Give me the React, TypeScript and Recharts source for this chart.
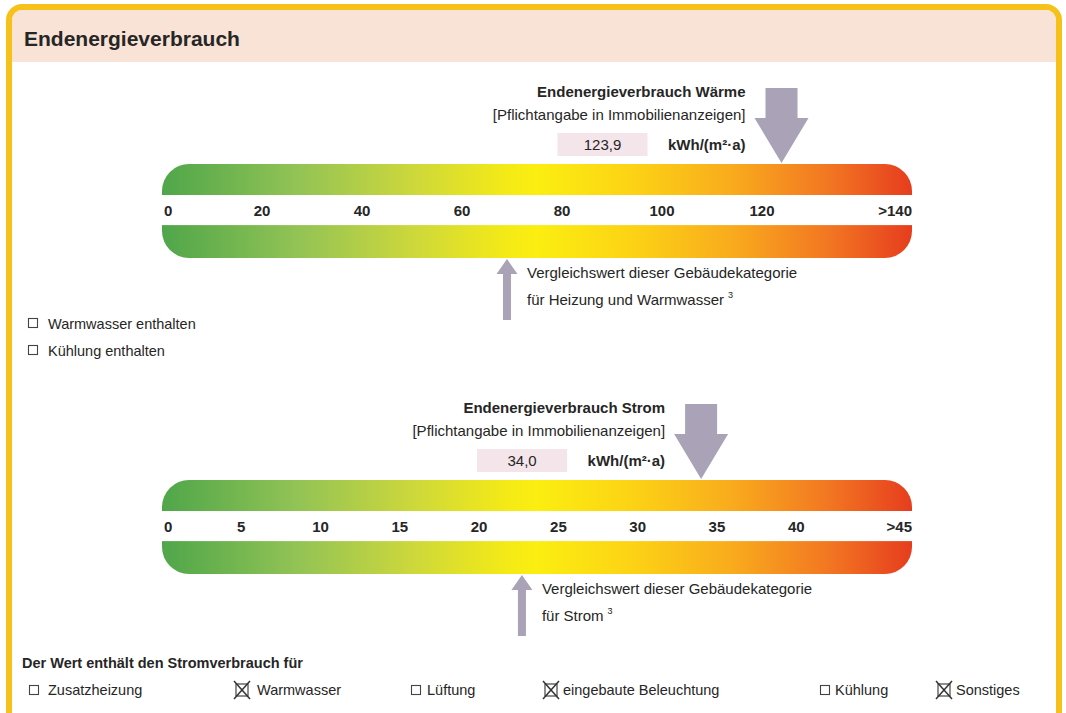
import React from 'react';
import { ComposedChart, XAxis, YAxis, ReferenceArea, Scatter } from 'recharts';

// Wärme scale
const waermeTicks = [0, 20, 40, 60, 80, 100, 120];
const waermeEnd = 150;
const waermeEndLabel = '>140';
const waermeValue = 123.9;
const waermeCompare = 69;

// Strom scale
const stromTicks = [0, 5, 10, 15, 20, 25, 30, 35, 40];
const stromEnd = 47.3;
const stromEndLabel = '>45';
const stromValue = 34.0;
const stromCompare = 22.7;

const waermeOptions = ['Warmwasser enthalten', 'Kühlung enthalten'];
const waermeChecked = [false, false];

const stromOptions = ['Zusatzheizung', 'Warmwasser', 'Lüftung', 'eingebaute Beleuchtung', 'Kühlung', 'Sonstiges'];
const stromChecked = [false, true, false, true, false, true];

const FONT = '"Liberation Sans", Arial, Helvetica, sans-serif';
const TEXT = '#262626';
const ARROW = '#aaa2b6';
const STOPS = [
  { o: 0, c: '#4fa64a' },
  { o: 0.18, c: '#92c355' },
  { o: 0.33, c: '#cbd73c' },
  { o: 0.46, c: '#f4ea16' },
  { o: 0.5, c: '#fbee10' },
  { o: 0.63, c: '#fcd215' },
  { o: 0.76, c: '#f9ab1d' },
  { o: 0.89, c: '#f27622' },
  { o: 1, c: '#e63d1e' },
];

const fmt = (v: number) => v.toFixed(1).replace('.', ',');

interface ScaleProps {
  id: string;
  top: number;
  ticks: number[];
  end: number;
  endLabel: string;
  value: number;
  compare: number;
  title: string;
  compareLine: string;
}

const EnergyScale: React.FC<ScaleProps> = ({ id, top, ticks, end, endLabel, value, compare, title, compareLine }) => {
  const gid = `${id}-grad`;
  return (
    <div style={{ position: 'absolute', left: 0, top }}>
      <ComposedChart width={1066} height={260} margin={{ top: 90, right: 154, bottom: 56, left: 162 }}>
        <defs>
          <linearGradient id={gid} x1="0" y1="0" x2="1" y2="0">
            {STOPS.map((s) => (
              <stop key={s.o} offset={s.o} stopColor={s.c} />
            ))}
          </linearGradient>
        </defs>
        <XAxis
          type="number"
          dataKey="v"
          domain={[0, end]}
          ticks={[...ticks, end]}
          interval={0}
          axisLine={false}
          tickLine={false}
          height={20}
          tick={(p: any) => {
            const v = p.payload.value;
            const anchor = v === 0 ? 'start' : v === end ? 'end' : 'middle';
            return (
              <text
                key={`t-${v}`}
                x={v === 0 ? p.x + 2 : p.x}
                y={90 + 47 + 5}
                textAnchor={anchor}
                fontFamily={FONT}
                fontSize={15}
                fontWeight="bold"
                fill={TEXT}
              >
                {v === end ? endLabel : v}
              </text>
            );
          }}
        />
        <YAxis type="number" dataKey="y" domain={[0, 1]} hide />
        <ReferenceArea
          x1={0}
          x2={end}
          y1={0}
          y2={1}
          shape={(p: any) => (
            <g>
              <rect x={p.x} y={p.y} width={p.width} height={p.height} rx={27} ry={27} fill={`url(#${gid})`} />
              <rect x={p.x - 1} y={p.y + p.height * 0.33} width={p.width + 2} height={p.height * 0.32} fill="#ffffff" />
            </g>
          )}
        />
        <Scatter
          data={[{ v: value, y: 1 }]}
          isAnimationActive={false}
          shape={(p: any) => {
            const { cx, cy } = p;
            return (
              <g fontFamily={FONT} fill={TEXT}>
                <path
                  d={`M${cx - 16},${cy - 76} h32 v30 h11 L${cx},${cy - 1} L${cx - 27},${cy - 46} h11 Z`}
                  fill={ARROW}
                />
                <text x={cx - 36} y={cy - 67} textAnchor="end" fontSize={15} fontWeight="bold">
                  {title}
                </text>
                <text x={cx - 36} y={cy - 44} textAnchor="end" fontSize={15}>
                  [Pflichtangabe in Immobilienanzeigen]
                </text>
                <rect x={cx - 224} y={cy - 31} width={90} height={23} fill="#f3e5ea" />
                <text x={cx - 179} y={cy - 14} textAnchor="middle" fontSize={15}>
                  {fmt(value)}
                </text>
                <text x={cx - 36} y={cy - 14} textAnchor="end" fontSize={15} fontWeight="bold">
                  kWh/(m²·a)
                </text>
              </g>
            );
          }}
        />
        <Scatter
          data={[{ v: compare, y: 0 }]}
          isAnimationActive={false}
          shape={(p: any) => {
            const { cx, cy } = p;
            return (
              <g fontFamily={FONT} fill={TEXT}>
                <path
                  d={`M${cx},${cy + 1} L${cx + 10.5},${cy + 16} h-6.5 v46 h-8 v-46 h-6.5 Z`}
                  fill={ARROW}
                />
                <text x={cx + 20} y={cy + 20} fontSize={15}>
                  Vergleichswert dieser Gebäudekategorie
                </text>
                <text x={cx + 20} y={cy + 47} fontSize={15}>
                  {compareLine}
                  <tspan dx={4} dy={-7} fontSize={9}>
                    3
                  </tspan>
                </text>
              </g>
            );
          }}
        />
      </ComposedChart>
    </div>
  );
};

const Label: React.FC<{ x: number; base: number; size: number; bold?: boolean; children: React.ReactNode }> = ({
  x,
  base,
  size,
  bold,
  children,
}) => (
  <div
    style={{
      position: 'absolute',
      left: x,
      top: base - size * 0.846,
      fontFamily: FONT,
      fontSize: size,
      lineHeight: 1,
      fontWeight: bold ? 'bold' : 'normal',
      color: TEXT,
      whiteSpace: 'nowrap',
    }}
  >
    {children}
  </div>
);

const Box: React.FC<{ x: number; cy: number; checked: boolean }> = ({ x, cy, checked }) => (
  <svg style={{ position: 'absolute', left: x - 5, top: cy - 10 }} width={20} height={20}>
    {checked ? (
      <g stroke="#333" strokeWidth={1.5} fill="none">
        <rect x={4} y={4} width={12} height={12} strokeWidth={1.1} />
        <line x1={2} y1={1} x2={18} y2={19} />
        <line x1={18} y1={1} x2={2} y2={19} />
      </g>
    ) : (
      <rect x={5.5} y={5.5} width={9} height={9} stroke="#444" strokeWidth={1.1} fill="#fff" />
    )}
  </svg>
);

const ROW_BOX_X = [24, 232, 406, 541, 815, 934];
const ROW_TEXT_X = [48, 257, 427, 563, 835, 956];

const App: React.FC = () => {
  return (
    <div
      style={{
        position: 'absolute',
        left: 0,
        top: 0,
        width: 1066,
        height: 713,
        overflow: 'hidden',
        background: '#ffffff',
      }}
    >
      <div
        style={{
          position: 'absolute',
          left: 6,
          top: 4,
          width: 1056,
          height: 780,
          border: '6px solid #f6c21a',
          borderRadius: 16,
          boxSizing: 'border-box',
          overflow: 'hidden',
        }}
      >
        <div style={{ position: 'absolute', left: 0, top: 0, right: 0, height: 52, background: '#f9e3d6' }} />
      </div>
      <Label x={24} base={46} size={21} bold>
        Endenergieverbrauch
      </Label>

      <EnergyScale
        id="waerme"
        top={74}
        ticks={waermeTicks}
        end={waermeEnd}
        endLabel={waermeEndLabel}
        value={waermeValue}
        compare={waermeCompare}
        title="Endenergieverbrauch Wärme"
        compareLine="für Heizung und Warmwasser"
      />

      {waermeOptions.map((o, i) => (
        <React.Fragment key={o}>
          <Box x={28} cy={323 + i * 27} checked={waermeChecked[i]} />
          <Label x={48} base={329 + i * 27} size={14.5}>
            {o}
          </Label>
        </React.Fragment>
      ))}

      <EnergyScale
        id="strom"
        top={390}
        ticks={stromTicks}
        end={stromEnd}
        endLabel={stromEndLabel}
        value={stromValue}
        compare={stromCompare}
        title="Endenergieverbrauch Strom"
        compareLine="für Strom"
      />

      <Label x={22} base={668} size={14.5} bold>
        Der Wert enthält den Stromverbrauch für
      </Label>
      {stromOptions.map((o, i) => (
        <React.Fragment key={o}>
          <Box x={ROW_BOX_X[i] + 5} cy={690} checked={stromChecked[i]} />
          <Label x={ROW_TEXT_X[i]} base={695} size={14.5}>
            {o}
          </Label>
        </React.Fragment>
      ))}
    </div>
  );
};

export default App;
